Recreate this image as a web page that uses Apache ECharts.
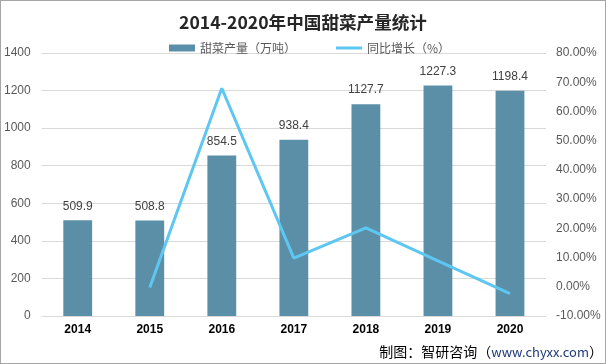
<!DOCTYPE html>
<html><head><meta charset="utf-8">
<script src="https://cdn.jsdelivr.net/npm/echarts@6/dist/echarts.min.js"></script>
<style>
html,body{margin:0;padding:0;background:#fff;}
#c{width:606px;height:364px;box-sizing:border-box;border:1px solid #a6a6a6;}
</style></head>
<body><div id="c"></div>
<script>
const categories = ['2014','2015','2016','2017','2018','2019','2020'];
const production = [509.9, 508.8, 854.5, 938.4, 1127.7, 1227.3, 1198.4];
const growth = [null, -0.22, 67.94, 9.82, 20.17, 8.83, -2.35];
const titleText = '2014-2020年中国甜菜产量统计';
const barName = '甜菜产量（万吨）';
const lineName = '同比增长（%）';

const chart = echarts.init(document.getElementById('c'));
chart.setOption({
  animation: false,
  title: {
    text: titleText, left: 'center', top: 8,
    textStyle: {fontSize: 17.6, fontWeight: 'bold', color: '#262626', fontFamily: 'Noto Sans CJK SC'}
  },
  legend: {
    top: 36, left: 163, itemGap: 40, itemWidth: 26, itemHeight: 7,
    symbolKeepAspect: true,
    textStyle: {fontSize: 12, color: '#595959', fontFamily: 'Noto Sans CJK SC'},
    data: [{name: barName, icon: 'rect'}, {name: lineName, icon: 'path://M0,0 L26,0 L26,3 L0,3 Z'}]
  },
  graphic: [{
    type: 'text', right: 2, bottom: 4,
    style: {
      rich: {a: {fontSize: 14, fill: '#000', fontFamily: 'Noto Sans CJK SC'}, b: {fontSize: 13, fill: '#1f3a7a', fontFamily: 'Noto Sans CJK SC'}},
      text: '{a|制图：智研咨询（}{b|www.chyxx.com}{a|）}'
    }
  }],
  grid: {left: 38, right: 59, top: 52, bottom: 47, containLabel: false},
  xAxis: {
    type: 'category', data: categories,
    axisLine: {lineStyle: {color: '#d9d9d9'}},
    axisTick: {show: false},
    axisLabel: {fontSize: 12, fontWeight: 'bold', color: '#000', margin: 8}
  },
  yAxis: [{
    type: 'value', min: 0, max: 1400, interval: 200,
    axisLine: {show: false}, axisTick: {show: false},
    splitLine: {lineStyle: {color: '#d9d9d9'}},
    axisLabel: {fontSize: 12, color: '#595959', margin: 11, formatter: v => String(v)}
  }, {
    type: 'value', min: -10, max: 80, interval: 10,
    axisLine: {show: false}, axisTick: {show: false},
    splitLine: {show: false},
    axisLabel: {fontSize: 12, color: '#595959', margin: 10, formatter: v => v.toFixed(2) + '%'}
  }],
  series: [{
    name: barName, type: 'bar', data: production, barWidth: '40%',
    itemStyle: {color: '#5b8fa8'},
    label: {show: true, position: 'top', fontSize: 12, color: '#404040', distance: 8}
  }, {
    name: lineName, type: 'line', yAxisIndex: 1, data: growth,
    symbol: 'none', lineStyle: {color: '#5dc7f2', width: 3},
    itemStyle: {color: '#5dc7f2'}
  }]
});
</script></body></html>
